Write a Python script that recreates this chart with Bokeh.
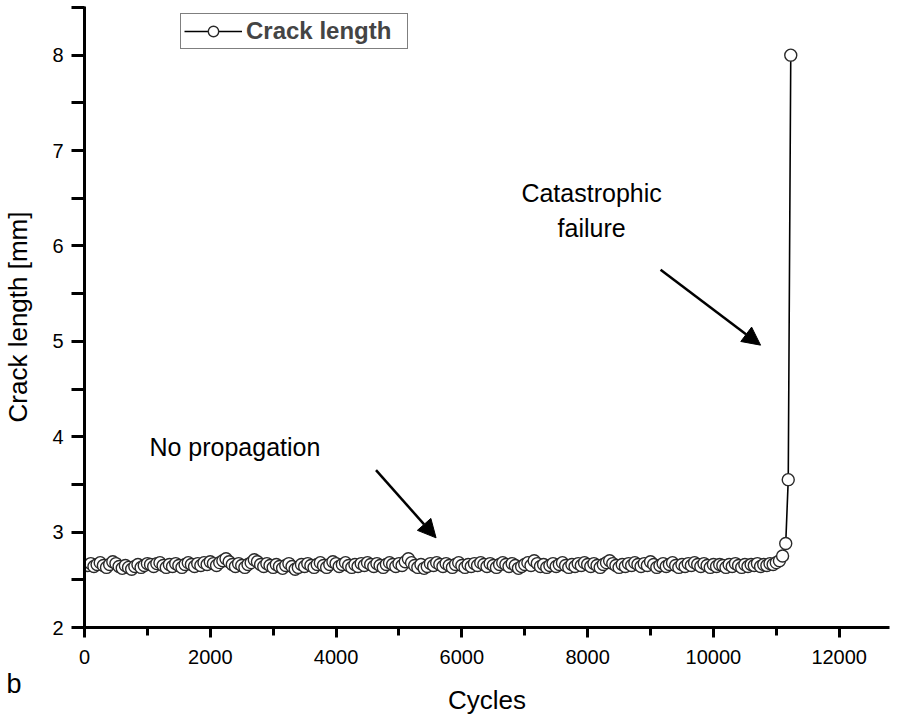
from bokeh.plotting import figure
from bokeh.models import (Range1d, FixedTicker, Legend, LegendItem, Label, Arrow,
                          NormalHead, ColumnDataSource)
from bokeh.embed import file_html
from bokeh.resources import INLINE

# ---- data ----
# steady-state readings, recorded every 50 cycles from 50 to 11000
steady_cycles = list(range(50, 11001, 50))
steady_length = [
    2.65, 2.67, 2.64, 2.66, 2.68, 2.65, 2.63, 2.66, 2.69, 2.67,
    2.64, 2.62, 2.65, 2.63, 2.61, 2.64, 2.66, 2.63, 2.65, 2.67,
    2.66, 2.64, 2.67, 2.68, 2.65, 2.63, 2.66, 2.64, 2.67, 2.65,
    2.63, 2.66, 2.68, 2.66, 2.64, 2.67, 2.65, 2.68, 2.66, 2.69,
    2.67, 2.65, 2.68, 2.70, 2.72, 2.69, 2.66, 2.64, 2.67, 2.65,
    2.63, 2.66, 2.68, 2.71, 2.69, 2.66, 2.64, 2.67, 2.65, 2.63,
    2.66, 2.64, 2.62, 2.65, 2.67, 2.64, 2.61, 2.63, 2.66, 2.64,
    2.67, 2.65, 2.63, 2.66, 2.68, 2.65, 2.63, 2.66, 2.69, 2.67,
    2.64, 2.66, 2.68, 2.65, 2.63, 2.66, 2.64, 2.67, 2.65, 2.68,
    2.66, 2.64, 2.67, 2.65, 2.63, 2.66, 2.68, 2.66, 2.64, 2.67,
    2.65, 2.69, 2.72, 2.68, 2.65, 2.63, 2.66, 2.62, 2.64, 2.67,
    2.65, 2.68, 2.66, 2.64, 2.67, 2.65, 2.63, 2.66, 2.68, 2.65,
    2.63, 2.66, 2.64, 2.67, 2.65, 2.68, 2.66, 2.64, 2.67, 2.65,
    2.63, 2.66, 2.68, 2.66, 2.64, 2.67, 2.65, 2.62, 2.64, 2.66,
    2.68, 2.65, 2.70, 2.67, 2.64, 2.66, 2.63, 2.65, 2.67, 2.64,
    2.66, 2.68, 2.65, 2.63, 2.66, 2.64, 2.67, 2.65, 2.68, 2.66,
    2.64, 2.67, 2.65, 2.63, 2.66, 2.68, 2.70, 2.67, 2.65, 2.63,
    2.66, 2.64, 2.67, 2.65, 2.68, 2.66, 2.64, 2.67, 2.65, 2.69,
    2.66, 2.63, 2.65, 2.67, 2.64, 2.66, 2.68, 2.65, 2.63, 2.66,
    2.64, 2.67, 2.65, 2.68, 2.66, 2.64, 2.67, 2.65, 2.63, 2.66,
    2.64, 2.66, 2.65, 2.63, 2.66, 2.64, 2.67, 2.65, 2.63, 2.66,
    2.64, 2.66, 2.65, 2.67, 2.64, 2.66, 2.65, 2.67, 2.66, 2.68,
]
# final readings before and at catastrophic failure
failure_cycles = [11050, 11100, 11150, 11190, 11230]
failure_length = [2.70, 2.75, 2.88, 3.55, 8.00]

cycles = steady_cycles + failure_cycles
crack_length = steady_length + failure_length

x_ticks = [0, 2000, 4000, 6000, 8000, 10000, 12000]
x_minor = [1000, 3000, 5000, 7000, 9000, 11000, 13000]
y_ticks = [2, 3, 4, 5, 6, 7, 8]
y_minor = [2.5, 3.5, 4.5, 5.5, 6.5, 7.5, 8.5]

FONT = "Liberation Sans"

p = figure(width=904, height=720, output_backend="svg", toolbar_location=None,
           x_range=Range1d(0, 12800), y_range=Range1d(2, 8.51),
           min_border_left=83, min_border_right=0, min_border_top=6,
           min_border_bottom=93)
p.outline_line_color = None
p.grid.visible = False
p.background_fill_color = "white"
p.border_fill_color = "white"

src = ColumnDataSource(dict(x=cycles, y=crack_length))
ln = p.line("x", "y", source=src, line_color="black", line_width=1.6)
sc = p.scatter("x", "y", source=src, marker="circle", size=12,
               fill_color="white", line_color="#2a2a2a", line_width=1.4)

for ax in (p.xaxis[0], p.yaxis[0]):
    ax.axis_line_width = 3
    ax.major_tick_line_width = 3
    ax.minor_tick_line_width = 3
    ax.major_tick_in = 0
    ax.minor_tick_in = 0
    ax.major_label_text_font = FONT
    ax.major_label_text_font_size = "20px"
    ax.major_label_text_color = "black"
    ax.axis_label_text_font = FONT
    ax.axis_label_text_font_size = "26px"
    ax.axis_label_text_font_style = "normal"
    ax.axis_label_text_color = "black"

p.xaxis[0].major_tick_out = 10
p.xaxis[0].minor_tick_out = 8
p.yaxis[0].major_tick_out = 13
p.yaxis[0].minor_tick_out = 13

p.xaxis[0].ticker = FixedTicker(ticks=x_ticks, minor_ticks=x_minor)
p.yaxis[0].ticker = FixedTicker(ticks=y_ticks, minor_ticks=y_minor)
p.xaxis[0].axis_label = "Cycles"
p.yaxis[0].axis_label = "Crack length [mm]"
p.xaxis[0].major_label_standoff = 12
p.xaxis[0].axis_label_standoff = 18
p.yaxis[0].major_label_standoff = 8
p.yaxis[0].axis_label_standoff = 16

legend = Legend(items=[LegendItem(label="Crack length", renderers=[ln, sc])],
                location=(96, 578), border_line_color="black",
                border_line_width=1.5, label_text_font=FONT,
                label_text_font_style="bold", label_text_font_size="24px",
                glyph_width=58, glyph_height=26, label_standoff=4,
                label_width=158, padding=3, margin=0, spacing=0,
                background_fill_alpha=1)
p.add_layout(legend)

p.add_layout(Label(x=1032, y=3.89, text="No propagation", text_font=FONT,
                   text_font_size="25px", text_baseline="middle",
                   text_color="black"))
p.add_layout(Label(x=8063, y=6.55, text="Catastrophic", text_font=FONT,
                   text_font_size="25px", text_baseline="middle",
                   text_align="center", text_color="black"))
p.add_layout(Label(x=8063, y=6.19, text="failure", text_font=FONT,
                   text_font_size="25px", text_baseline="middle",
                   text_align="center", text_color="black"))

for (x0, y0, x1, y1) in [(4635, 3.65, 5590, 2.94), (9160, 5.75, 10750, 4.96)]:
    p.add_layout(Arrow(x_start=x0, y_start=y0, x_end=x1, y_end=y1,
                       line_width=2.5, line_color="black",
                       end=NormalHead(size=18, fill_color="black",
                                      line_color="black", line_width=1)))

# panel label "b", bottom-left of the figure (placed via a side panel so it is
# not clipped to the plotting frame)
p.add_layout(Label(x=-883, y=-56, x_units="screen", y_units="screen", text="b",
                   text_font=FONT, text_font_size="27px", text_color="black",
                   text_baseline="middle"), "right")

open("out.html", "w").write(file_html(p, INLINE))
